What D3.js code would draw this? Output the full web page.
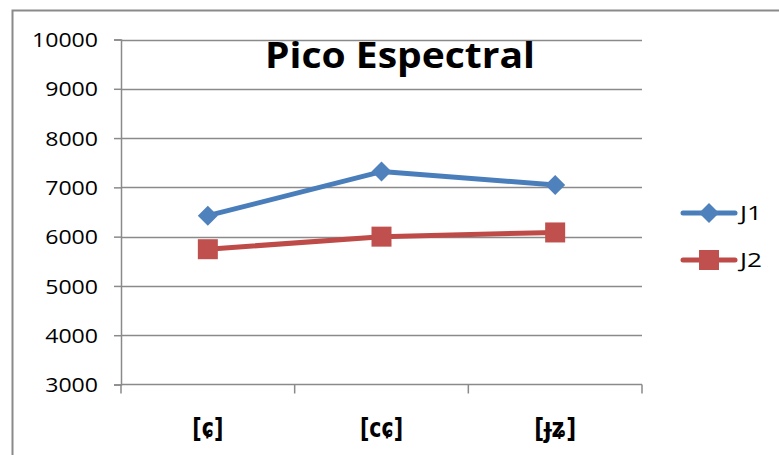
<!DOCTYPE html>
<html>
<head>
<meta charset="utf-8">
<script src="https://cdn.jsdelivr.net/npm/d3@7"></script>
<style>
  html, body { margin: 0; padding: 0; background: #fff; }
  svg { display: block; }
</style>
</head>
<body>
<svg id="chart" width="779" height="455"></svg>
<script>
// Phoneme categories and spectral peak values per speaker
const categories = ["[ɕ]", "[cɕ]", "[ɟʑ]"];
const seriesNames = ["J1", "J2"];
const j1Values = [6425, 7320, 7050];
const j2Values = [5745, 6000, 6085];
const yTicks = [3000, 4000, 5000, 6000, 7000, 8000, 9000, 10000];
const chartTitle = "Pico Espectral";

const svg = d3.select("#chart");
const W = 779, H = 455;
const plot = { left: 121, right: 642, top: 39.5, bottom: 384.5 };
const font = "'Open Sans', 'DejaVu Sans', sans-serif";
const grey = "#8a8a8a";

// outer chart frame (only top and left edges fall inside the view)
svg.append("path")
  .attr("d", `M12.5,${H} L12.5,10.5 L${W},10.5`)
  .attr("fill", "none").attr("stroke", grey).attr("stroke-width", 2);

const x = d3.scaleBand().domain(categories).range([plot.left, plot.right]).padding(0);
const y = d3.scaleLinear().domain([3000, 10000]).range([plot.bottom, plot.top]);
const cx = d => x(d) + x.bandwidth() / 2;

// horizontal gridlines
svg.append("g").selectAll("line").data(yTicks.filter(t => t > 3000)).join("line")
  .attr("x1", plot.left).attr("x2", plot.right)
  .attr("y1", d => Math.round(y(d)) + 0.5).attr("y2", d => Math.round(y(d)) + 0.5)
  .attr("stroke", grey).attr("stroke-width", 1.5);

// y axis
const yAxis = svg.append("g").attr("transform", `translate(${plot.left},0)`)
  .call(d3.axisLeft(y).tickValues(yTicks).tickSize(7).tickPadding(16).tickFormat(d3.format("d")));
yAxis.select(".domain").attr("stroke", grey).attr("stroke-width", 1.5);
yAxis.selectAll(".tick line").attr("stroke", grey).attr("stroke-width", 1.5);
yAxis.selectAll(".tick text")
  .attr("font-family", font).attr("font-size", 20).attr("fill", "#000")
  .attr("dy", "0.36em")
  .attr("textLength", d => String(d).length * 13.2).attr("lengthAdjust", "spacingAndGlyphs");

// x axis with tick marks on band boundaries
const xAxisG = svg.append("g").attr("transform", `translate(0,${plot.bottom})`);
xAxisG.append("line").attr("x1", plot.left).attr("x2", plot.right)
  .attr("stroke", grey).attr("stroke-width", 1.5);
const boundaries = categories.map(c => x(c)).concat([plot.right]);
xAxisG.selectAll("line.tk").data(boundaries).join("line").attr("class", "tk")
  .attr("x1", d => d).attr("x2", d => d).attr("y1", 0).attr("y2", 9)
  .attr("stroke", grey).attr("stroke-width", 1.5);
const catWidths = [31, 43, 42];
xAxisG.selectAll("text").data(categories).join("text")
  .attr("x", d => cx(d)).attr("y", 52)
  .attr("text-anchor", "middle")
  .attr("font-family", "'DejaVu Sans', sans-serif").attr("font-weight", "bold").attr("font-size", 26)
  .attr("textLength", (d, i) => catWidths[i]).attr("lengthAdjust", "spacingAndGlyphs")
  .attr("fill", "#000").text(d => d);

// title
svg.append("text").attr("x", 400).attr("y", 68).attr("text-anchor", "middle")
  .attr("font-family", font).attr("font-weight", "bold").attr("font-size", 35)
  .attr("textLength", 270).attr("lengthAdjust", "spacingAndGlyphs")
  .attr("fill", "#000").text(chartTitle);

const series = [
  { name: seriesNames[0], values: j1Values, line: "#4a7ebb", fill: "#4f81bd", shape: "diamond" },
  { name: seriesNames[1], values: j2Values, line: "#be4b48", fill: "#c0504d", shape: "square" }
];

const line = d3.line().x((d, i) => cx(categories[i])).y(d => y(d));

function marker(g, shape, color) {
  if (shape === "diamond") {
    g.append("path").attr("d", "M0,-10 L10,0 L0,10 L-10,0 Z").attr("fill", color);
  } else {
    g.append("rect").attr("x", -10).attr("y", -10).attr("width", 20).attr("height", 20).attr("fill", color);
  }
}

series.forEach(s => {
  svg.append("path").datum(s.values).attr("d", line)
    .attr("fill", "none").attr("stroke", s.line).attr("stroke-width", 5)
    .attr("stroke-linejoin", "round").attr("stroke-linecap", "round");
  s.values.forEach((v, i) => {
    const g = svg.append("g").attr("transform", `translate(${cx(categories[i])},${y(v)})`);
    marker(g, s.shape, s.fill);
  });
});

// legend
const legend = svg.append("g");
series.forEach((s, i) => {
  const ly = 213 + i * 47;
  legend.append("line").attr("x1", 683).attr("x2", 735).attr("y1", ly).attr("y2", ly)
    .attr("stroke", s.line).attr("stroke-width", 5).attr("stroke-linecap", "round");
  const g = legend.append("g").attr("transform", `translate(709,${ly})`);
  marker(g, s.shape, s.fill);
  legend.append("text").attr("x", 740).attr("y", ly + 7)
    .attr("font-family", font).attr("font-size", 20).attr("fill", "#000")
    .attr("textLength", 22).attr("lengthAdjust", "spacingAndGlyphs").text(s.name);
});
</script>
</body>
</html>
